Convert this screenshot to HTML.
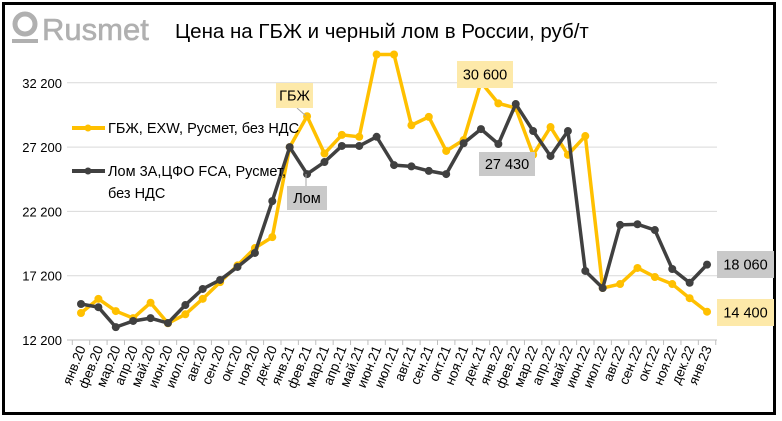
<!DOCTYPE html>
<html><head><meta charset="utf-8">
<style>
html,body{margin:0;padding:0;background:#fff;width:782px;height:421px;overflow:hidden}
svg text{font-family:"Liberation Sans","DejaVu Sans",sans-serif}
</style></head>
<body>
<svg id="chart" width="782" height="421" viewBox="0 0 782 421" xmlns="http://www.w3.org/2000/svg">
<rect x="3.5" y="3.5" width="771" height="410" fill="#fff" stroke="#000" stroke-width="3"/>
<g>
<circle cx="25" cy="24" r="10" fill="none" stroke="#b0b0b0" stroke-width="5"/>
<rect x="12" y="39" width="26" height="4" fill="#b0b0b0"/>
<text x="42" y="40" font-size="31" fill="#b0b0b0" stroke="#b0b0b0" stroke-width="0.6">Rusmet</text>
</g>
<text x="175" y="38" font-size="20.5" fill="#000">Цена на ГБЖ и черный лом в России, руб/т</text>
<g id="grid"></g>
<g id="yticks"></g>
<g id="xaxis"></g>
<g id="series"></g>
<g>
<line x1="72" y1="128" x2="105" y2="128" stroke="#ffc000" stroke-width="4"/>
<circle cx="88" cy="128" r="3.5" fill="#ffc000"/>
<text x="108" y="133" font-size="14.5">ГБЖ, EXW, Русмет, без НДС</text>
<line x1="72" y1="171" x2="105" y2="171" stroke="#404040" stroke-width="4"/>
<circle cx="88" cy="171" r="3.5" fill="#404040"/>
<text x="108" y="176" font-size="14.5">Лом 3А,ЦФО FCA, Русмет,</text>
<text x="108" y="198" font-size="14.5">без НДС</text>
</g>
<g id="annot"></g>
</svg>
<script>
const categories=["янв.20","фев.20","мар.20","апр.20","май.20","июн.20","июл.20","авг.20","сен.20","окт.20","ноя.20","дек.20","янв.21","фев.21","мар.21","апр.21","май.21","июн.21","июл.21","авг.21","сен.21","окт.21","ноя.21","дек.21","янв.22","фев.22","мар.22","апр.22","май.22","июн.22","июл.22","авг.22","сен.22","окт.22","ноя.22","дек.22","янв.23"];
const gbzhValues=[14300,15400,14450,13900,15100,13500,14200,15400,16700,18000,19350,20200,27200,29600,26700,28150,28000,34400,34400,28900,29550,26900,27750,32250,30600,30240,26600,28760,26600,28060,16240,16550,17800,17100,16550,15450,14400];
const lomValues=[15000,14750,13200,13680,13900,13520,14920,16170,16870,17880,18970,23000,27200,25100,26040,27290,27290,28000,25800,25700,25350,25100,27500,28600,27440,30550,28450,26500,28450,17570,16240,21150,21200,20750,17720,16650,18060];
const yTicks=[12200,17200,22200,27200,32200];
const yTickLabels=["12 200","17 200","22 200","27 200","32 200"];

const NS="http://www.w3.org/2000/svg";
const X0=81,STEP=17.39,Y0=340,YS=0.01286;
function xPos(i){return X0+i*STEP;}
function yPos(v){return Y0-(v-12200)*YS;}
function mk(tag,attrs,parent){const e=document.createElementNS(NS,tag);for(const k in attrs)e.setAttribute(k,attrs[k]);parent.appendChild(e);return e;}

const grid=document.getElementById('grid'),yt=document.getElementById('yticks');
yTicks.forEach((v,i)=>{
  if(i>0){const l=mk('line',{x1:67,x2:717,y1:yPos(v),y2:yPos(v),stroke:'#d9d9d9','stroke-width':1},grid);
  
  }
  const t=mk('text',{x:62,y:yPos(v)+5,'text-anchor':'end','font-size':13,fill:'#000'},yt);
  t.textContent=yTickLabels[i];
  
  
});
const xa=document.getElementById('xaxis');
const ax=mk('line',{x1:67,x2:717,y1:Y0,y2:Y0,stroke:'#bfbfbf','stroke-width':1},xa);


for(let i=0;i<=categories.length;i++){
  mk('line',{x1:xPos(i)-STEP/2,x2:xPos(i)-STEP/2,y1:Y0,y2:Y0+5,stroke:'#bfbfbf'},xa);
}
categories.forEach((c,i)=>{
  const x=xPos(i)+5,y=Y0+8;
  const t=mk('text',{x:x,y:y,'text-anchor':'end','font-size':13.5,fill:'#000',transform:`rotate(-68 ${x} ${y})`},xa);
  t.textContent=c;
  
  
});
const sg=document.getElementById('series');
function drawSeries(vals,color,name){
  const pts=vals.map((v,i)=>xPos(i)+','+yPos(v)).join(' ');
  const pl=mk('polyline',{points:pts,fill:'none',stroke:color,'stroke-width':3.5,'stroke-linejoin':'round'},sg);
  
  
  vals.forEach((v,i)=>{
    const c=mk('circle',{cx:xPos(i),cy:yPos(v),r:4,fill:color},sg);
    
    
  });
}
drawSeries(gbzhValues,'#ffc000','gbzh');
drawSeries(lomValues,'#404040','lom');

const an=document.getElementById('annot');
function box(x,y,w,h,fill,text,name){
  const g=mk('g',{},an);
  
  
  mk('rect',{x:x,y:y,width:w,height:h,fill:fill},g);
  const t=mk('text',{x:x+w/2,y:y+h/2+5,'text-anchor':'middle','font-size':14.5,fill:'#000'},g);
  t.textContent=text;
}
mk('line',{x1:297,y1:108,x2:306,y2:116,stroke:'#a6a6a6'},an);
mk('line',{x1:306,y1:174,x2:306,y2:186,stroke:'#a6a6a6'},an);
box(276,83,37,25,'#fde9a9','ГБЖ','annotation-gbzh');
box(287,186,40,24,'#c9c9c9','Лом','annotation-lom');
box(457,61,56,27,'#fde9a9','30 600','label-30600');
box(479,152,56,24,'#c9c9c9','27 430','label-27430');
box(717,251,57,27,'#c9c9c9','18 060','label-18060');
box(717,299,57,27,'#fde9a9','14 400','label-14400');
</script>
</body></html>
